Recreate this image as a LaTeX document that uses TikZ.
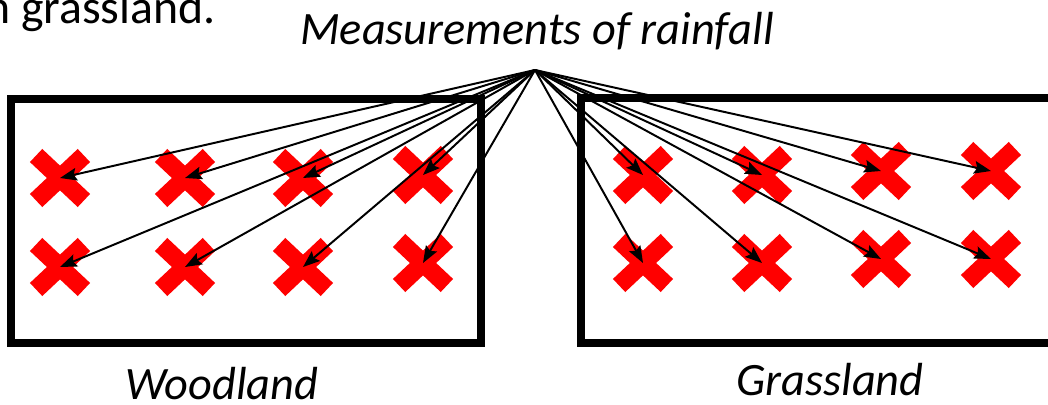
\documentclass[tikz,border=0pt]{standalone}
\usepackage{fontspec}
\setmainfont{Carlito}
\usetikzlibrary{arrows.meta,shapes.misc}

\tikzset{
  plotbox/.style={line width=5.7pt},
  rainx/.style={cross out, draw=red, line width=12.8pt, minimum width=34pt,
    minimum height=32pt, inner sep=0pt, outer sep=0pt},
  gauge/.style={-{Stealth[length=12pt,width=9pt,inset=2pt]}, line width=1.4pt},
  label/.style={font=\fontsize{33}{38}\selectfont\itshape, anchor=base},
}

\begin{document}
\begin{tikzpicture}[x=0.025cm, y=-0.025cm, line cap=butt, line join=miter]
  \useasboundingbox (0,0) rectangle (1048,405);

  % Leftover of the sentence above
  \node[font=\fontsize{34}{38}\selectfont, anchor=base east, inner sep=0pt] (txt) at (216,24) {n grassland.};

  % Plots
  \draw[plotbox] (11,99) rectangle (481,343);
  \draw[plotbox] (581,98) rectangle (1056,343);

  % Rain gauges, woodland
  \node[rainx] (w1) at (60,178) {};
  \node[rainx] (w2) at (185,178) {};
  \node[rainx] (w3) at (303,178) {};
  \node[rainx] (w4) at (423,175) {};
  \node[rainx] (w5) at (60,267) {};
  \node[rainx] (w6) at (185,267) {};
  \node[rainx] (w7) at (303,267) {};
  \node[rainx] (w8) at (423,263) {};

  % Rain gauges, grassland
  \node[rainx] (g1) at (643,175) {};
  \node[rainx] (g2) at (762,175) {};
  \node[rainx] (g3) at (881,171) {};
  \node[rainx] (g4) at (991,171) {};
  \node[rainx] (g5) at (643,263) {};
  \node[rainx] (g6) at (762,263) {};
  \node[rainx] (g7) at (881,259) {};
  \node[rainx] (g8) at (991,259) {};

  % Labels
  \node[label] (meas) at (537,45) {Measurements of rainfall};
  \coordinate (top) at (535,70);
  \node[label] (wood) at (222,400) {Woodland};
  \node[label] (grass) at (830,396) {Grassland};

  % Measurements
  \foreach \g in {w1,w2,w3,w4,w5,w6,w7,w8,g1,g2,g3,g4,g5,g6,g7,g8}
    \draw[gauge] (top) -- (\g.center);
\end{tikzpicture}
\end{document}
